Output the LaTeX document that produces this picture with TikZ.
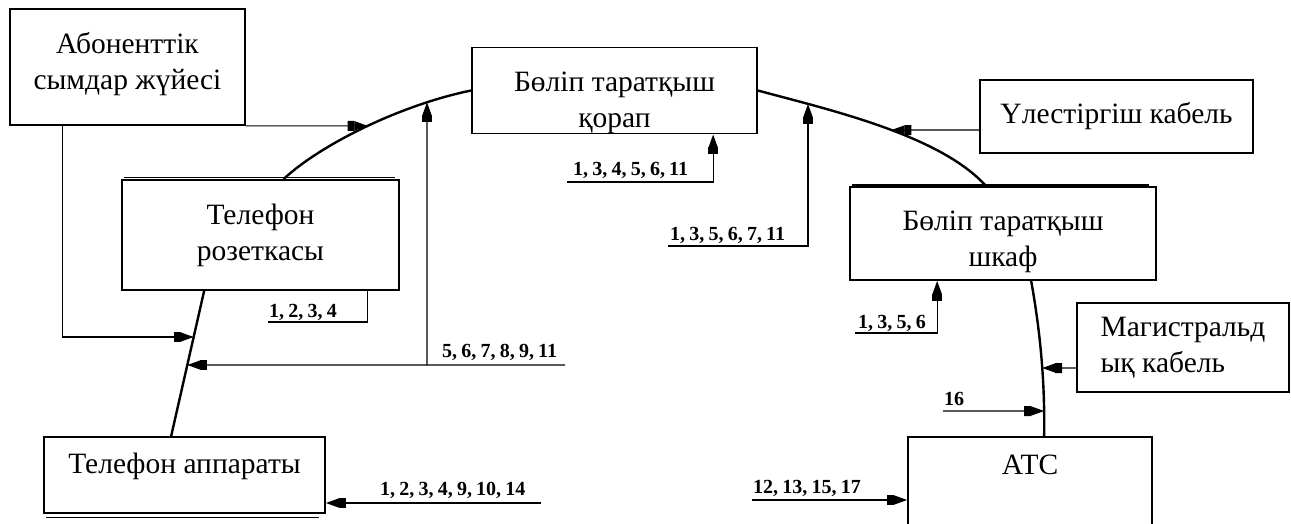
\documentclass[tikz,border=0pt]{standalone}
\usepackage{fontspec}
\setmainfont{Liberation Serif}
\usetikzlibrary{arrows.meta,intersections,calc}
\newcommand{\cs}{,\kern4.2pt\relax}
\begin{document}
\begin{tikzpicture}[x=1pt,y=-1pt,
  box/.style={draw,line width=1.7pt,inner sep=0pt,align=center,font=\fontsize{29.5}{36}\selectfont},
  btext/.style={inner sep=0pt,font=\fontsize{29.5}{36}\selectfont},
  conn/.style={line width=1.2pt},
  wire/.style={line width=2.4pt},
  arr/.style={conn,-{Rectangle[length=7pt,width=10pt]Triangle[length=13pt,width=9pt]}},
  lbl/.style={font=\bfseries\fontsize{20}{20}\selectfont,inner sep=0pt,anchor=base west},
  shade/.style={line width=1.4pt}
]
\fill[white] (0,0) rectangle (1291,523);
\useasboundingbox (0,0) rectangle (1291,523);
\clip (0,0) rectangle (1291,523);

% boxes
\node[box,minimum width=235,minimum height=116] (abon) at (127.5,67) {Абоненттік\\сымдар жүйесі\rule[-12pt]{0pt}{0pt}};
\node[box,minimum width=285,minimum height=85] (korap) at (614.5,90.5) {\rule{0pt}{44pt}Бөліп таратқыш\\қорап};
\node[box,minimum width=273,minimum height=73] (ulest) at (1116.5,116.5) {Үлестіргіш кабель};
\node[box,minimum width=277,minimum height=110] (rozet) at (260.5,235) {Телефон\\розеткасы};
\node[box,minimum width=306,minimum height=93] (shkaf) at (1003,233.5) {\rule{0pt}{36pt}Бөліп таратқыш\\шкаф};
\node[box,minimum width=212,minimum height=89,align=left] (magis) at (1183,347.5) {Магистральд\\ық кабель};
\node[box,minimum width=281,minimum height=76] (app) at (184.5,475) {};
\node[btext] (apptext) at (184.5,466) {Телефон аппараты};
\node[box,minimum width=244,minimum height=120] (atc) at (1030,497) {};
\node[btext] (atctext) at (1030,465) {АТС};

% extra edge lines
\draw[shade] ($(rozet.north west)+(3,-1.5)$) -- ($(rozet.north east)+(-5,-1.5)$);
\draw[line width=2.4pt] ($(shkaf.north west)+(3,-1)$) -- ($(shkaf.north east)+(-8,-1)$);
\draw[shade] ($(app.south west)+(3,3.5)$) -- ($(app.south east)+(-7,3.5)$);

% arcs (wires)
\coordinate (aL0) at ($(rozet.north)+(23,0)$);
\coordinate (aR1) at ($(shkaf.north west)+(137,0)$);
\draw[wire,name path=arcL] (aL0) .. controls (320,145) and (400,105) .. (korap.west);
\draw[wire,name path=arcR] (korap.east) .. controls (830,110) and (940,135) .. (aR1);

\coordinate (r1) at ($(rozet.south west)+(83,0)$);
\coordinate (a1) at ($(app.north west)+(128,0)$);
\draw[wire,name path=wL] (r1) -- (a1);

\coordinate (s0) at ($(shkaf.south west)+(182,0)$);
\coordinate (t0) at ($(atc.north west)+(137,0)$);
\draw[wire,name path=wR] (s0) .. controls (1040,330) and (1045,380) .. (t0);

% helper paths
\coordinate (abonL) at ($(abon.south west)+(53,0)$);
\coordinate (v1) at (427,365);
\coordinate (e5) at (565,365);
\coordinate (k2) at (668,246);
\coordinate (u1) at (0,130);
\coordinate (m1) at (0,368);
\coordinate (e16) at (943,411);
\path[name path=hA] (abon.south east) -- ++(300,0);
\path[name path=vB] (v1) -- (427,40);
\path[name path=hC] (0,337) -- (400,337);
\path[name path=hD] (0,365) -- (400,365);
\path[name path=vE] (808,246) -- (808,40);
\path[name path=hU] (ulest.west |- u1) -- (700,130);
\path[name path=hM] (magis.west |- m1) -- (900,368);
\path[name path=hG] (e16) -- (1200,411);
\path[name intersections={of=arcL and hA,by=iA}];
\path[name intersections={of=arcL and vB,by=iB}];
\path[name intersections={of=wL and hC,by=iC}];
\path[name intersections={of=wL and hD,by=iD}];
\path[name intersections={of=arcR and vE,by=iE}];
\path[name intersections={of=arcR and hU,by=iU}];
\path[name intersections={of=wR and hM,by=iM}];
\path[name intersections={of=wR and hG,by=iG}];

% connectors
\draw[arr] (abon.south east) -- (iA);
\draw[arr] (abonL) |- (iC);
\draw[arr] (v1) -- (iB);
\draw[arr] (e5) -- (iD);
\draw[conn] ($(rozet.south west)+(246,0)$) |- (268,322);
\coordinate (e14) at (541,503);
\draw[arr] (e14) -- (app.east |- e14);
\coordinate (k1) at (567,182);
\draw[arr] (k1) -| ($(korap.south west)+(242,0)$);
\draw[arr] (k2) -| (iE);
\draw[arr] (ulest.west |- u1) -- (iU);
\coordinate (sl) at (855,333);
\draw[arr] (sl) -| ($(shkaf.south west)+(88,0)$);
\draw[arr] (magis.west |- m1) -- (iM);
\draw[arr] (e16) -- (iG);
\coordinate (e12) at (752,500);
\draw[arr] (e12) -- (atc.west |- e12);

% labels
\node[lbl] (l1234) at (269,317) {1\cs 2\cs 3\cs 4};
\node[lbl] (l5) at (442,357) {5\cs 6\cs 7\cs 8\cs 9\cs 11};
\node[lbl] (l14) at (380,495) {1\cs 2\cs 3\cs 4\cs 9\cs 10\cs 14};
\node[lbl] (l11a) at (573,175) {1\cs 3\cs 4\cs 5\cs 6\cs 11};
\node[lbl] (l11b) at (670,240) {1\cs 3\cs 5\cs 6\cs 7\cs 11};
\node[lbl] (l1356) at (858,328) {1\cs 3\cs 5\cs 6};
\node[lbl] (l16) at (944,405) {16};
\node[lbl] (l12) at (753,493) {12\cs 13\cs 15\cs 17};
\end{tikzpicture}
\end{document}
